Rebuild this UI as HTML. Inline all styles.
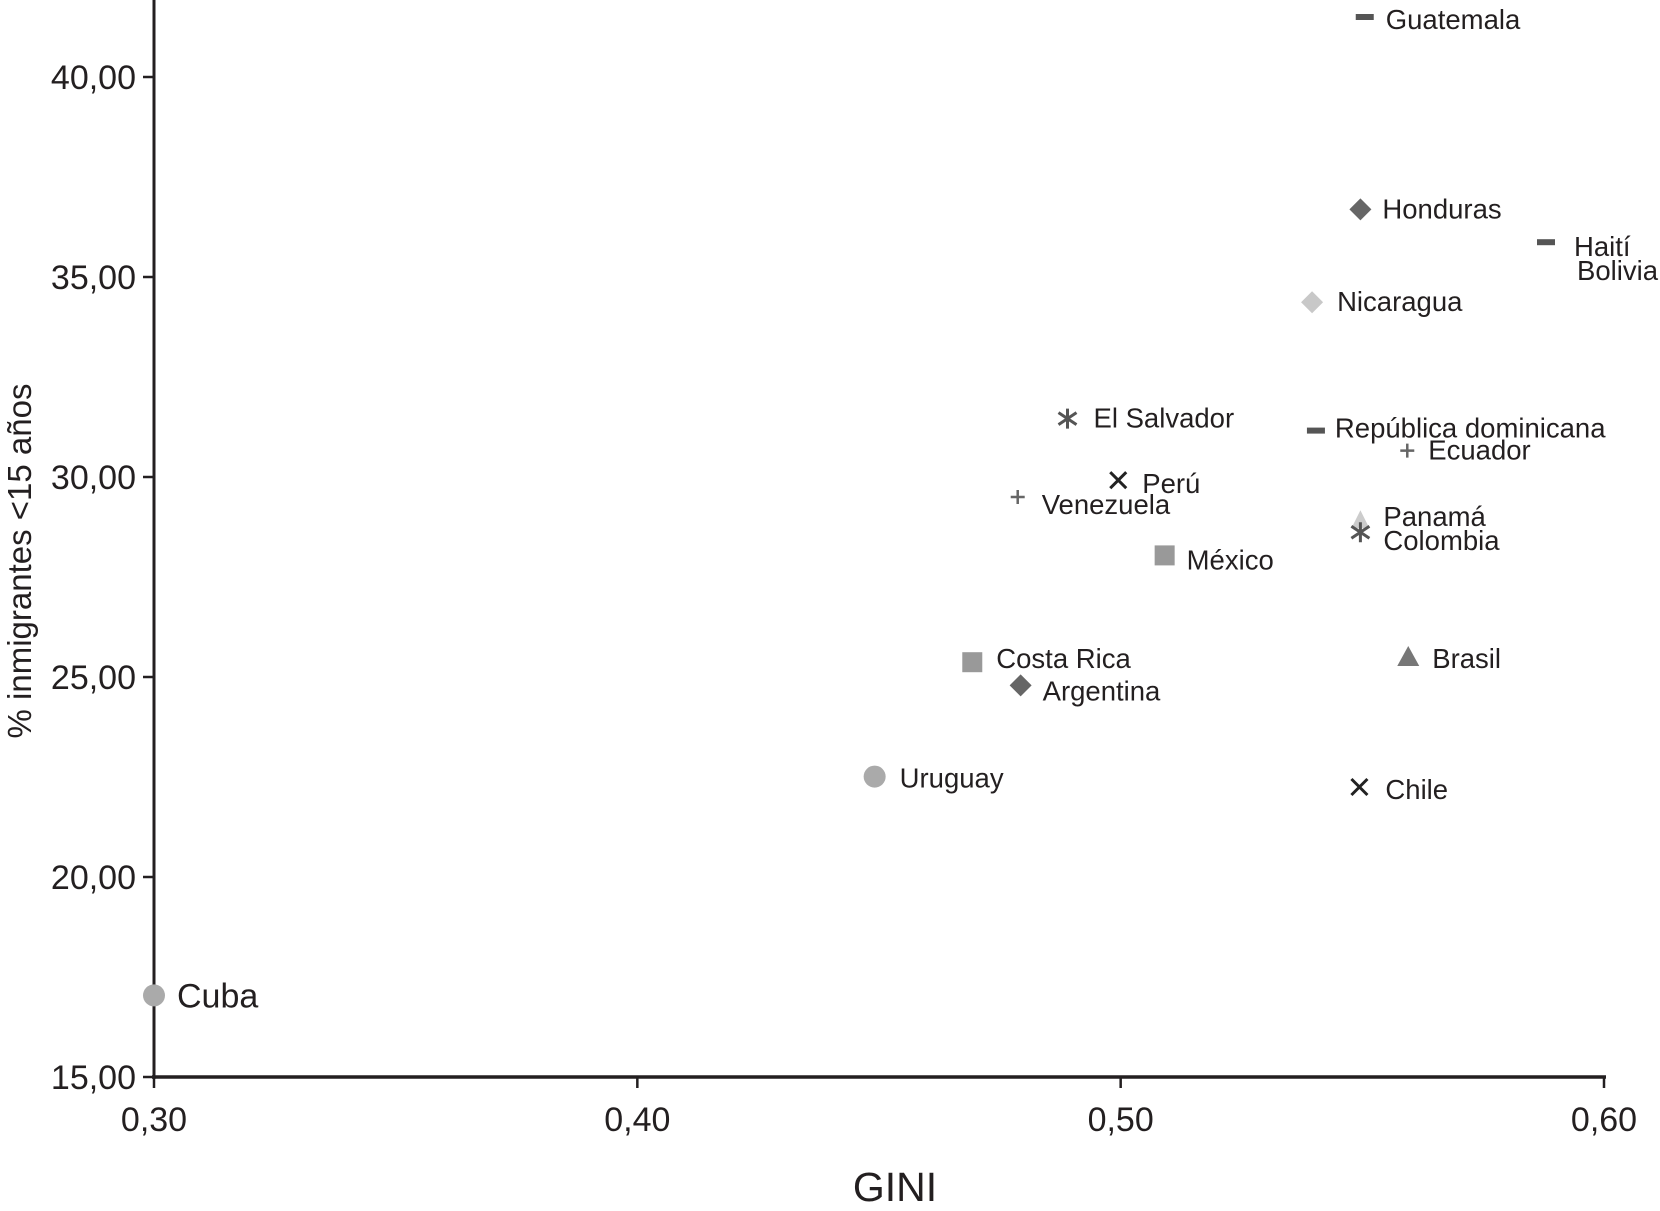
<!DOCTYPE html>
<html><head><meta charset="utf-8"><style>
html,body{margin:0;padding:0;background:#fff;}
svg{display:block;font-family:"Liberation Sans",sans-serif;}
</style></head><body>
<svg id="chart" width="1660" height="1211" viewBox="0 0 1660 1211">
<g id="axes"></g><g id="points"></g>
</svg>
<script>
const countries=["Guatemala","Honduras","Haití","Bolivia","Nicaragua","El Salvador","República dominicana","Ecuador","Perú","Venezuela","Panamá","Colombia","México","Costa Rica","Argentina","Brasil","Uruguay","Chile","Cuba"];
const giniValues=[0.5505,0.5496,0.588,0.588,0.5396,0.489,0.5404,0.5593,0.4995,0.4787,0.5496,0.5496,0.5091,0.4693,0.4793,0.5595,0.4491,0.5494,0.30];
const youthValues=[41.5,36.69,35.87,35.87,34.37,31.46,31.16,30.66,29.92,29.5,28.92,28.62,28.04,25.37,24.79,25.5,22.51,22.25,17.04];
const markerTypes=["dash","diamond","dash","none","diamondL","star","dash","plus","x","plus","triL","star","square","square","diamond","tri","circle","x","circle"];
const xTicks=[0.30,0.40,0.50,0.60];
const xTickLabels=["0,30","0,40","0,50","0,60"];
const yTicks=[15,20,25,30,35,40];
const yTickLabels=["15,00","20,00","25,00","30,00","35,00","40,00"];
// label offsets (styling)
const lblDx=[21,22,28,31,25,26,19,21,24,24,23,23,22,24,22,24,25,26,23];
const lblDy=[12,9,14,38,9,9,7,9,13,17,6,18,14,6,15,11,11,12,12];

const ns="http://www.w3.org/2000/svg";
const X=v=>154+(v-0.3)/0.3*1450;
const Y=v=>1077-(v-15)*40;
function mk(tag,attrs,parent){const e=document.createElementNS(ns,tag);for(const k in attrs)e.setAttribute(k,attrs[k]);parent.appendChild(e);return e;}
const ax=document.getElementById('axes'),pts=document.getElementById('points');

let l=mk('line',{x1:154,y1:0,x2:154,y2:1079,stroke:'#231f20','stroke-width':3},ax);


l=mk('line',{x1:152,y1:1077,x2:1606,y2:1077,stroke:'#231f20','stroke-width':3.5},ax);


xTicks.forEach((t,i)=>{
  const tk=mk('line',{x1:X(t),y1:1077,x2:X(t),y2:1088,stroke:'#231f20','stroke-width':2.5},ax);
  
  
  const tx=mk('text',{x:X(t),y:1131,'text-anchor':'middle','font-size':34,fill:'#231f20'},ax);
  tx.textContent=xTickLabels[i];
  
  
});
yTicks.forEach((t,i)=>{
  const tk=mk('line',{x1:143,y1:Y(t),x2:154,y2:Y(t),stroke:'#231f20','stroke-width':2.5},ax);
  
  
  const tx=mk('text',{x:136,y:Y(t)+12,'text-anchor':'end','font-size':34,fill:'#231f20'},ax);
  tx.textContent=yTickLabels[i];
  
  
});
let t=mk('text',{x:895,y:1201,'text-anchor':'middle','font-size':41,fill:'#231f20'},ax);
t.textContent="GINI";


t=mk('text',{x:0,y:0,'text-anchor':'middle','font-size':33,fill:'#231f20',transform:'translate(31,561) rotate(-90)'},ax);
t.textContent="% inmigrantes <15 años";



function marker(type,x,y,g){
  switch(type){
    case 'dash': return mk('rect',{x:x-9,y:y-3,width:18,height:6,fill:'#555'},g);
    case 'diamond': return mk('polygon',{points:`${x},${y-11} ${x+11},${y} ${x},${y+11} ${x-11},${y}`,fill:'#666'},g);
    case 'diamondL': return mk('polygon',{points:`${x},${y-11} ${x+11},${y} ${x},${y+11} ${x-11},${y}`,fill:'#c8c8c8'},g);
    case 'square': return mk('rect',{x:x-10,y:y-10,width:20,height:20,fill:'#999'},g);
    case 'circle': return mk('circle',{cx:x,cy:y,r:11,fill:'#aaa'},g);
    case 'tri': return mk('polygon',{points:`${x},${y-11} ${x+11},${y+9} ${x-11},${y+9}`,fill:'#777'},g);
    case 'triL': return mk('polygon',{points:`${x},${y-10} ${x+9},${y+8} ${x-9},${y+8}`,fill:'#ccc'},g);
    case 'x': return mk('path',{d:`M${x-8},${y-8}L${x+8},${y+8}M${x+8},${y-8}L${x-8},${y+8}`,stroke:'#222','stroke-width':3},g);
    case 'plus': return mk('path',{d:`M${x-7},${y}L${x+7},${y}M${x},${y-7}L${x},${y+7}`,stroke:'#666','stroke-width':2.5},g);
    case 'star': return mk('path',{d:`M${x},${y-10}L${x},${y+10}M${x-9},${y-6}L${x+9},${y+6}M${x+9},${y-6}L${x-9},${y+6}`,stroke:'#555','stroke-width':3},g);
  }
  return null;
}
countries.forEach((c,i)=>{
  const x=X(giniValues[i]),y=Y(youthValues[i]);
  const g=mk('g',{},pts);
  
  
  const m=marker(markerTypes[i],x,y,g);
  if(m){
    
    
  }
  const tx=mk('text',{x:x+lblDx[i],y:y+lblDy[i],'font-size':c==="Cuba"?34:27.5,fill:'#231f20'},g);
  tx.textContent=c;
  
  
});
</script>
</body></html>
